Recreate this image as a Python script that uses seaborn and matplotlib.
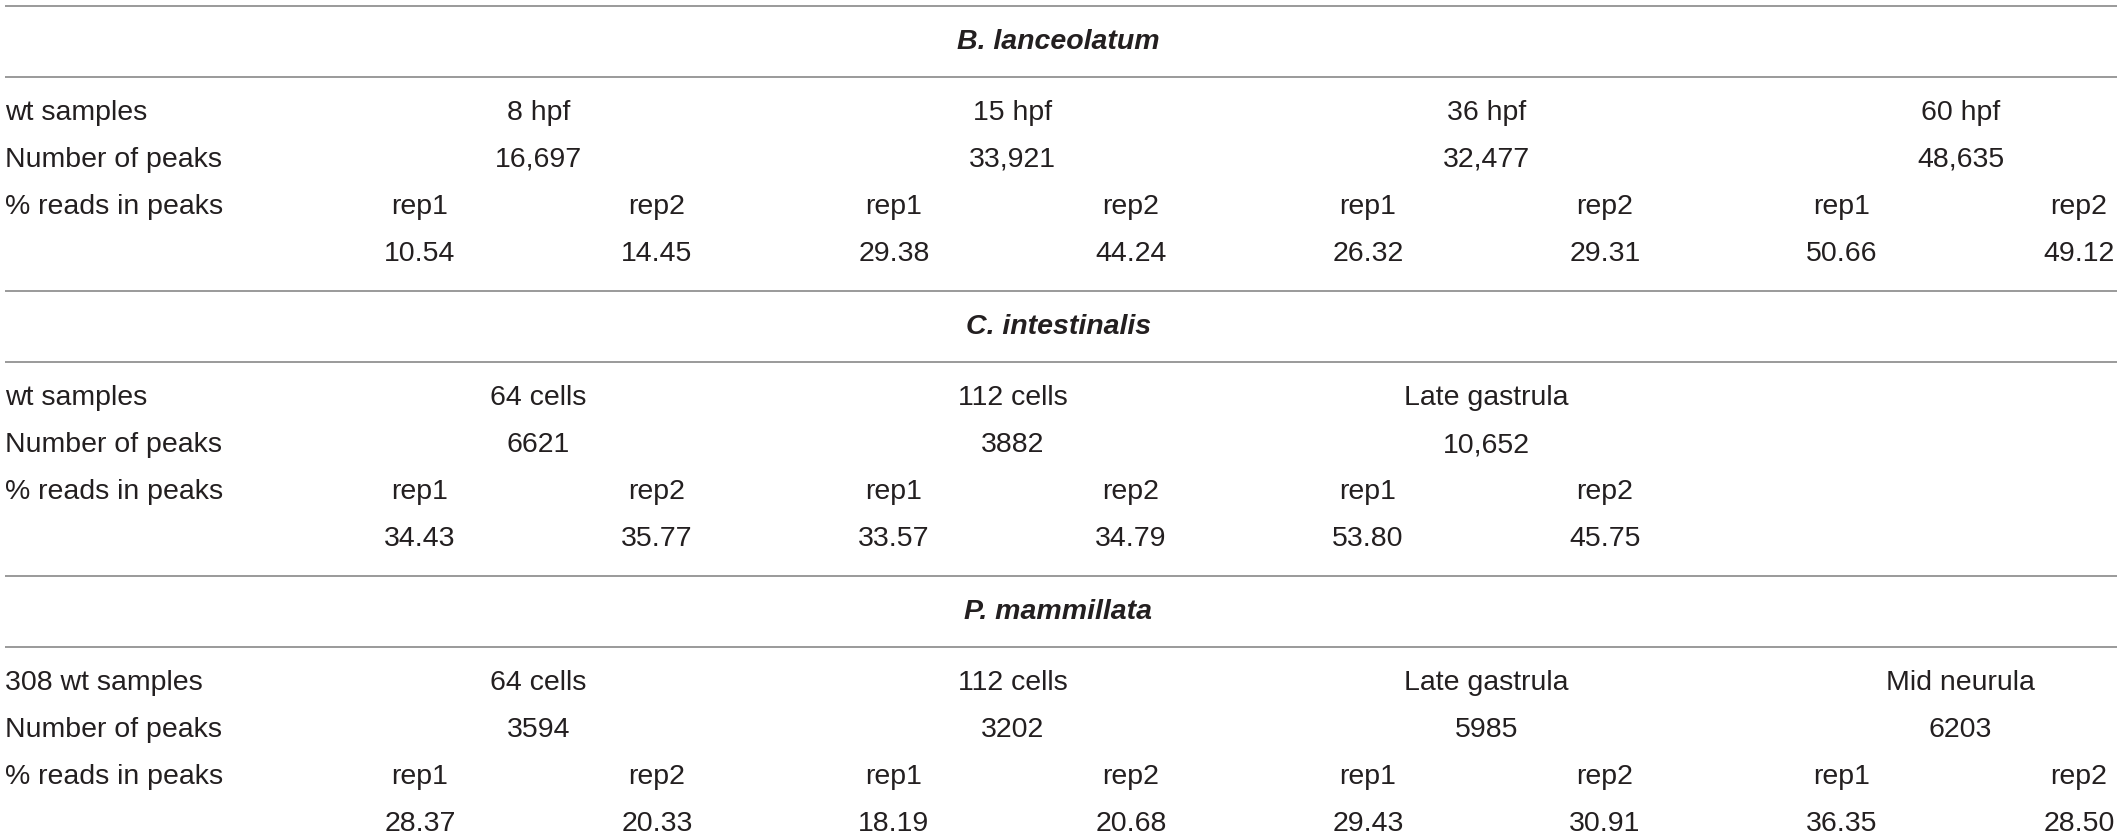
import matplotlib
matplotlib.use("Agg")
import matplotlib.pyplot as plt
import seaborn as sns

# ---------------------- Table data ------------------------
species = ["B. lanceolatum", "C. intestinalis", "P. mammillata"]
sample_labels = ["wt samples", "wt samples", "308 wt samples"]
row_labels = ["Number of peaks", "% reads in peaks"]

stages_bl = ["8 hpf", "15 hpf", "36 hpf", "60 hpf"]
peaks_bl = ["16,697", "33,921", "32,477", "48,635"]
rep1_bl = [10.54, 29.38, 26.32, 50.66]
rep2_bl = [14.45, 44.24, 29.31, 49.12]

stages_ci = ["64 cells", "112 cells", "Late gastrula"]
peaks_ci = ["6621", "3882", "10,652"]
rep1_ci = [34.43, 33.57, 53.80]
rep2_ci = [35.77, 34.79, 45.75]

stages_pm = ["64 cells", "112 cells", "Late gastrula", "Mid neurula"]
peaks_pm = ["3594", "3202", "5985", "6203"]
rep1_pm = [28.37, 18.19, 29.43, 36.35]
rep2_pm = [20.33, 20.68, 30.91, 28.50]

sections = [
    (stages_bl, peaks_bl, rep1_bl, rep2_bl),
    (stages_ci, peaks_ci, rep1_ci, rep2_ci),
    (stages_pm, peaks_pm, rep1_pm, rep2_pm),
]

# ---------------------- Layout (pixels) ------------------------
W, H = 2117, 840
SECTION_TOP = [6, 291, 576]
REP1_X0, REP2_X0, GROUP_STEP = 420, 657, 474
LABEL_X = 5
TEXT_COLOR = "#231f20"
LINE_COLOR = "#9a9a9a"
FS = 20.5

sns.set_theme(style="white")
plt.rcParams["font.family"] = ["Liberation Sans", "DejaVu Sans"]

fig = plt.figure(figsize=(W / 100, H / 100), dpi=100)
ax = fig.add_axes([0, 0, 1, 1])
ax.set_xlim(0, W)
ax.set_ylim(H, 0)
ax.axis("off")


def put(x, y, s, ha="center", **kw):
    ax.text(x, y, s, ha=ha, va="center", fontsize=FS, color=TEXT_COLOR, **kw)


for k, (stages, peaks, rep1, rep2) in enumerate(sections):
    top = SECTION_TOP[k]
    ax.hlines([top, top + 71], LABEL_X, W, color=LINE_COLOR, lw=1.4)
    put(W / 2, top + 36, species[k], fontweight="bold", fontstyle="italic")

    rows_y = [top + 107, top + 154, top + 201, top + 248]
    put(LABEL_X, rows_y[0], sample_labels[k], ha="left")
    put(LABEL_X, rows_y[1], row_labels[0], ha="left")
    put(LABEL_X, rows_y[2], row_labels[1], ha="left")

    for i, stage in enumerate(stages):
        x1 = REP1_X0 + GROUP_STEP * i
        x2 = REP2_X0 + GROUP_STEP * i
        xm = (x1 + x2) / 2
        put(xm, rows_y[0], stage)
        put(xm, rows_y[1], peaks[i])
        put(x1, rows_y[2], "rep1")
        put(x2, rows_y[2], "rep2")
        put(x1, rows_y[3], f"{rep1[i]:.2f}")
        put(x2, rows_y[3], f"{rep2[i]:.2f}")

fig.savefig("out.png", dpi=100)
